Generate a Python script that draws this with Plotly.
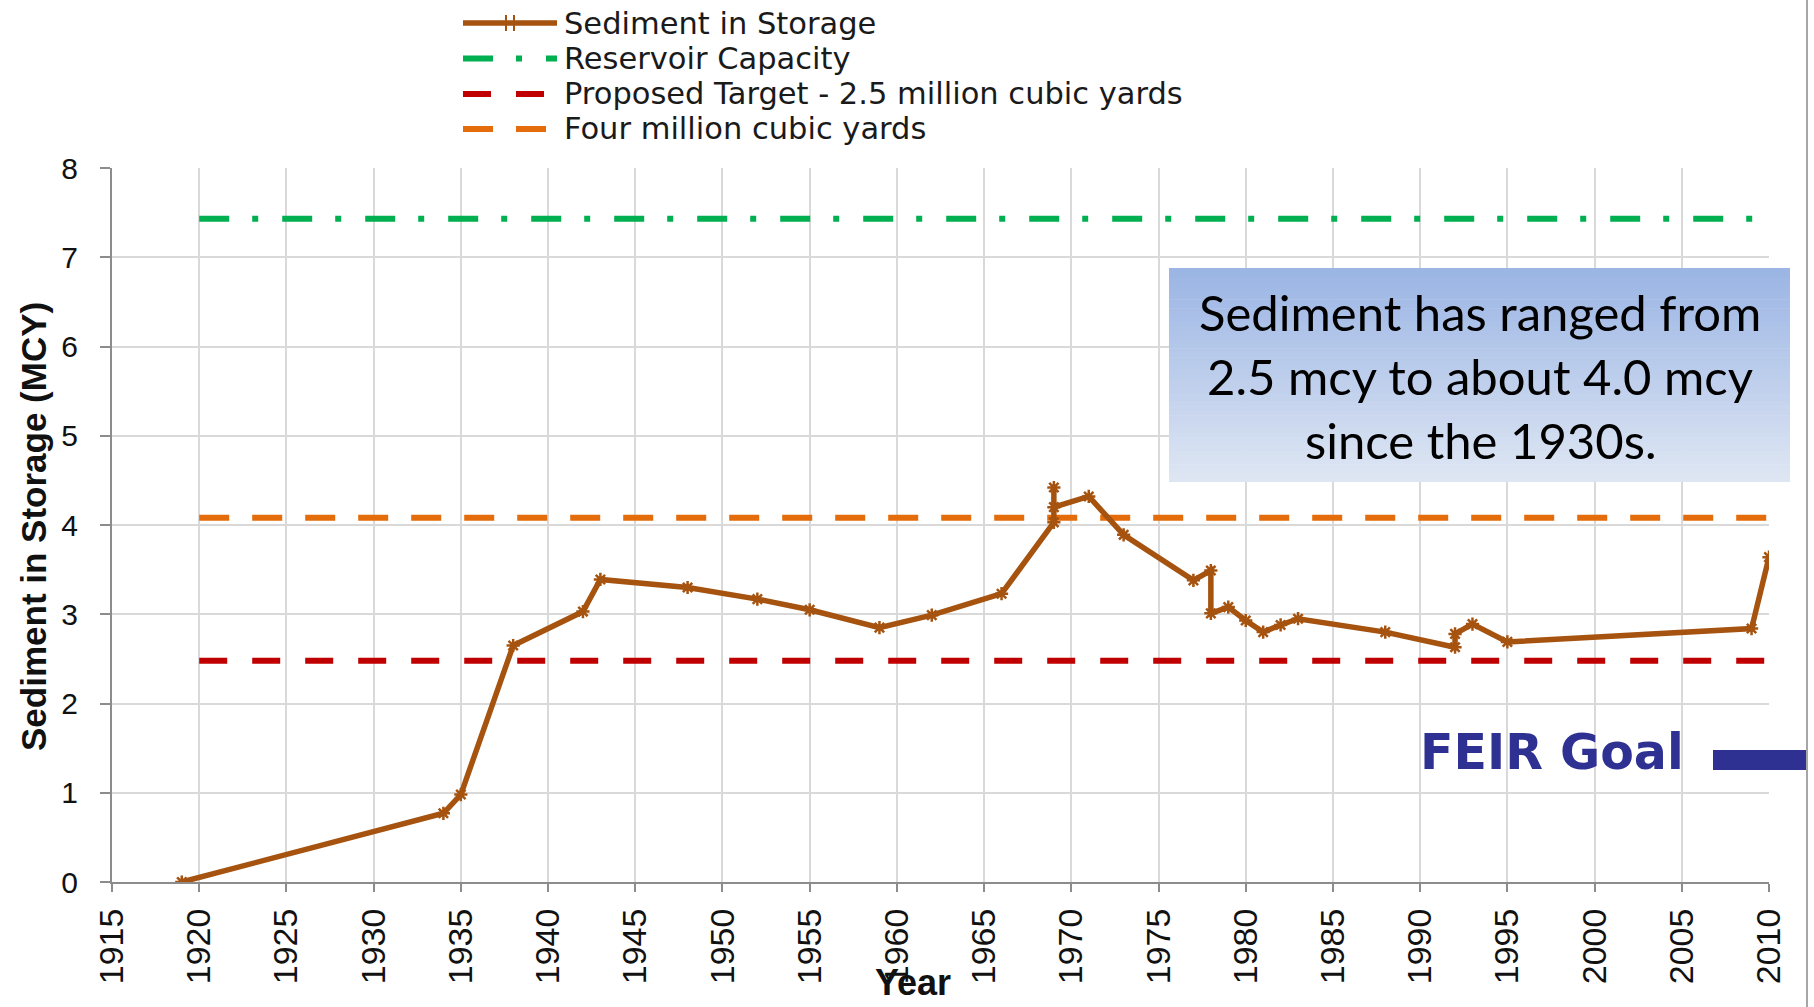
import plotly.graph_objects as go

# ---------------- data ----------------
years = [1919, 1934, 1935, 1938, 1942, 1943, 1948, 1952, 1955, 1959, 1962, 1966,
         1969, 1969, 1969, 1971, 1973, 1977, 1978, 1978, 1979, 1980, 1981, 1982,
         1983, 1988, 1992, 1992, 1993, 1995, 2009, 2010]
sediment = [0.00, 0.77, 0.98, 2.65, 3.03, 3.39, 3.30, 3.17, 3.05, 2.85, 2.99, 3.23,
            4.03, 4.42, 4.20, 4.32, 3.89, 3.38, 3.49, 3.01, 3.08, 2.93, 2.80, 2.88,
            2.95, 2.80, 2.63, 2.78, 2.89, 2.69, 2.84, 3.64]
ref_years = [1920, 2010]
capacity = [7.43, 7.43]
target = [2.48, 2.48]
four_million = [4.08, 4.08]
series_names = ["Sediment in Storage", "Reservoir Capacity",
                "Proposed Target - 2.5 million cubic yards", "Four million cubic yards"]
x_ticks = list(range(1915, 2011, 5))
y_ticks = list(range(0, 9))
note_lines = ["Sediment has ranged from", "2.5 mcy to about 4.0 mcy", "since the 1930s."]
goal_label = "FEIR Goal"
y_title = "Sediment in Storage (MCY)"
x_title = "Year"

# ---------------- geometry helpers (pixels -> paper) ----------------
W, H = 1814, 1007
L, R, T, B = 112, 1769, 168, 882


def px(x):
    return (x - L) / (R - L)


def py(y):
    return (B - y) / (B - T)


BROWN = "#A5530F"
GREEN = "#00B050"
RED = "#C00000"
ORANGE = "#E46C0A"
NAVY = "#2E3192"
styles = [
    dict(color=BROWN, width=5.5, dash="solid"),
    dict(color=GREEN, width=6, dash="30px,23px,6px,24px"),
    dict(color=RED, width=6, dash="28px,25px"),
    dict(color=ORANGE, width=6, dash="30px,23px"),
]

fig = go.Figure()
fig.add_trace(go.Scatter(x=ref_years, y=capacity, mode="lines", name=series_names[1],
                         line=styles[1], showlegend=False, hoverinfo="skip"))
fig.add_trace(go.Scatter(x=ref_years, y=target, mode="lines", name=series_names[2],
                         line=styles[2], showlegend=False, hoverinfo="skip"))
fig.add_trace(go.Scatter(x=ref_years, y=four_million, mode="lines", name=series_names[3],
                         line=styles[3], showlegend=False, hoverinfo="skip"))
fig.add_trace(go.Scatter(x=years, y=sediment, mode="lines+markers", name=series_names[0],
                         line=dict(color=BROWN, width=5.5),
                         marker=dict(symbol="asterisk", size=11, color=BROWN,
                                     line=dict(color=BROWN, width=2.5)),
                         showlegend=False))

shapes = []
annotations = []

# ---------------- manual legend ----------------
row_y = [23, 58.5, 94, 129]
for i, name in enumerate(series_names):
    st = styles[i]
    shapes.append(dict(type="line", xref="paper", yref="paper",
                       x0=px(463), x1=px(557), y0=py(row_y[i]), y1=py(row_y[i]),
                       line=dict(color=st["color"], width=st["width"], dash=st["dash"])))
    annotations.append(dict(text=name, xref="paper", yref="paper", x=px(563), y=py(row_y[i]),
                            xanchor="left", yanchor="middle", showarrow=False, borderpad=0,
                            font=dict(family="DejaVu Sans, Liberation Sans, sans-serif",
                                      size=30.5, color="#1a1a1a")))
# marker glyph in the sediment legend sample
for xm in (506, 514):
    shapes.append(dict(type="line", xref="paper", yref="paper",
                       x0=px(xm), x1=px(xm), y0=py(15), y1=py(31),
                       line=dict(color=BROWN, width=2)))

# ---------------- gradient text box ----------------
bx0, bx1, by0, by1 = 1169, 1790, 268, 482
top_c = (155, 181, 228)
bot_c = (222, 230, 243)
n = 48
for k in range(n):
    t = k / (n - 1)
    c = tuple(round(top_c[j] + (bot_c[j] - top_c[j]) * t) for j in range(3))
    ya = by0 + (by1 - by0) * k / n
    yb = by0 + (by1 - by0) * (k + 1) / n + 0.6
    shapes.append(dict(type="rect", xref="paper", yref="paper",
                       x0=px(bx0), x1=px(bx1), y0=py(ya), y1=py(min(yb, by1)),
                       fillcolor="rgb(%d,%d,%d)" % c, line=dict(width=0), layer="above"))
line_y = [312, 376, 440]
for txt, yy in zip(note_lines, line_y):
    annotations.append(dict(text=txt, xref="paper", yref="paper", x=px(1480), y=py(yy),
                            xanchor="center", yanchor="middle", showarrow=False,
                            font=dict(family="Lato, Open Sans, sans-serif", size=49,
                                      color="#000000")))

# ---------------- FEIR goal ----------------
annotations.append(dict(text=goal_label, xref="paper", yref="paper", x=px(1552), y=py(752),
                        xanchor="center", yanchor="middle", showarrow=False,
                        font=dict(family="DejaVu Sans, Verdana, sans-serif", size=49,
                                  color=NAVY, weight="bold")))
shapes.append(dict(type="rect", xref="paper", yref="paper",
                   x0=px(1713), x1=px(1808), y0=py(750), y1=py(770),
                   fillcolor=NAVY, line=dict(width=0)))

# right slide border
shapes.append(dict(type="line", xref="paper", yref="paper",
                   x0=px(1807), x1=px(1807), y0=py(0), y1=py(H),
                   line=dict(color="#A6A6A6", width=2)))

# ---------------- axis titles ----------------
annotations.append(dict(text=y_title, xref="paper", yref="paper", x=px(33), y=py(527),
                        xanchor="center", yanchor="middle", textangle=-90, showarrow=False,
                        font=dict(family="Liberation Sans, Arial, sans-serif",
                                  size=35, color="#111111", weight="bold")))
annotations.append(dict(text=x_title, xref="paper", yref="paper", x=px(913), y=py(982),
                        xanchor="center", yanchor="middle", showarrow=False,
                        font=dict(family="Liberation Sans, Arial, sans-serif",
                                  size=36, color="#111111", weight="bold")))

axis_common = dict(showgrid=True, gridcolor="#D9D9D9", gridwidth=1.5,
                   showline=True, linecolor="#8C8C8C", linewidth=2,
                   ticks="outside", tickcolor="#8C8C8C", tickwidth=2,
                   zeroline=False, mirror=False)

fig.update_layout(
    width=W, height=H, autosize=False,
    margin=dict(l=L, r=W - R, t=T, b=H - B, pad=0),
    plot_bgcolor="white", paper_bgcolor="white",
    showlegend=False,
    xaxis=dict(range=[1915, 2010], tickvals=x_ticks, ticktext=[str(v) for v in x_ticks],
               tickangle=-90, ticklen=8, ticklabelstandoff=3,
               tickfont=dict(family="Liberation Sans, Arial, sans-serif", size=34,
                             color="#111111"),
               **axis_common),
    yaxis=dict(range=[0, 8], tickvals=y_ticks, ticklen=10, ticklabelstandoff=16,
               tickfont=dict(family="Liberation Sans, Arial, sans-serif", size=30,
                             color="#111111"),
               **axis_common),
    shapes=shapes,
    annotations=annotations,
)

fig.write_html("out.html", config={"displayModeBar": False},
               post_script="document.body.style.margin='0';document.body.style.overflow='hidden';")
